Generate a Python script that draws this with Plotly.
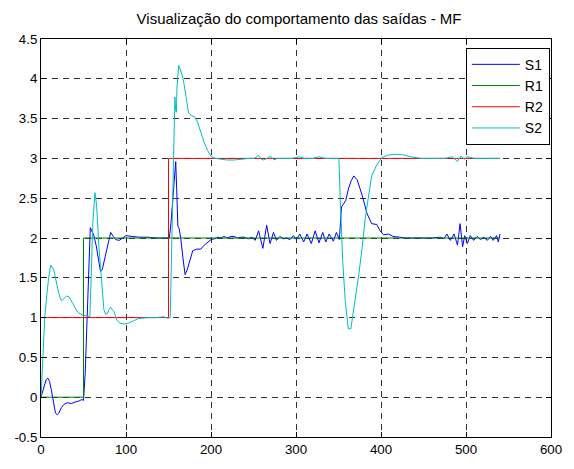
import plotly.graph_objects as go

# ---------------- data ----------------
s1_x = [0, 3, 6, 8, 10, 12, 15, 17, 19, 21, 24, 27, 31, 36, 40, 44, 48, 50, 52, 54, 56, 58, 60, 62, 65, 68, 70, 72,
        75, 78, 80, 82, 85, 88, 92, 96, 100, 107, 115, 125, 135, 145, 151, 153, 155, 157, 158.5, 160, 161, 162.5,
        164.5, 167, 169.5, 172, 175, 178.5, 183, 188, 192, 196, 200, 204, 208, 212, 215, 219, 223, 227, 231, 235,
        239, 244, 248, 252, 256, 261, 265.5, 269.5, 273.5, 277, 281, 285, 289, 293, 297, 300.5, 304.5, 309, 313,
        318, 322.5, 327, 331.5, 335, 339, 344, 347.5, 351, 353.5, 358.5, 362, 365, 368, 372, 378, 383.5, 389, 395,
        399, 403, 409, 414, 420, 430, 445, 460, 470, 474, 477.5, 481.5, 486, 490, 493, 496, 498.5, 501.5, 505, 509,
        513, 517, 521, 525, 529, 532, 536, 538, 540]
s1_y = [0, 0.12, 0.22, 0.24, 0.2, 0.1, -0.1, -0.2, -0.22, -0.2, -0.13, -0.09, -0.07, -0.08, -0.06, -0.05, -0.03,
        -0.04, 0.3, 0.9, 1.6, 2.13, 2.08, 2.04, 1.9, 1.7, 1.58, 1.6, 1.75, 1.9, 2.0, 2.07, 2.02, 1.98, 1.97, 2.0, 2.03,
        2.02, 2.01, 2.01, 2.0, 2.0, 2.0, 2.2, 2.5, 2.8, 2.96, 2.5, 2.15, 2.12, 1.99, 1.75, 1.54, 1.6, 1.72, 1.84, 1.86,
        1.86, 1.91, 1.95, 1.98, 1.99, 2.01, 2.0, 2.02, 2.0, 2.02, 2.02, 2.0, 2.01, 2.01, 1.99, 2.01, 1.97, 2.09, 1.87,
        2.16, 1.93, 2.07, 1.97, 2.02, 1.99, 2.0, 1.98, 2.03, 1.98, 2.05, 1.95, 2.05, 1.93, 2.09, 1.94, 2.07, 1.95, 2.05,
        1.96, 2.07, 1.98, 2.39, 2.47, 2.63, 2.72, 2.78, 2.73, 2.53, 2.31, 2.18, 2.17, 2.09, 2.04, 2.05, 2.02, 2.01, 2.0,
        2.0, 2.0, 2.01, 1.99, 2.05, 1.97, 2.05, 1.91, 2.18, 1.89, 2.03, 1.93, 2.03, 1.97, 2.02, 1.98, 2.01, 1.97, 2.02,
        1.97, 2.03, 1.95, 2.05]

r1_x = [0, 50, 50, 540]
r1_y = [0, 0, 2, 2]

r2_x = [0, 150, 150, 540]
r2_y = [1, 1, 3, 3]

s2_x = [0, 1.5, 3, 4.5, 7, 9, 11.5, 13, 15, 17, 19, 21, 24, 27, 30, 33, 36, 39, 43, 47, 52, 56, 57.5, 59, 61, 63.5,
        65.5, 68, 70, 72, 74, 76, 78, 80, 82, 84, 86, 89, 93, 98, 103, 109, 115, 125, 135, 144, 148, 150, 152, 154,
        156, 157.5, 158.5, 159.3, 160, 162, 166, 168, 171, 173.5, 177, 181, 184, 188, 192, 196.5, 200.5, 205, 212,
        219, 227, 235, 245, 251, 256, 259, 262, 266, 270, 274, 278, 285, 295, 304, 310, 320, 327, 335, 345, 350.5,
        352, 355, 358, 361.5, 364.5, 368, 371, 374, 378, 381.5, 385, 389, 395, 401, 408, 415, 424, 435, 447, 460,
        475, 484, 490, 494, 498, 501, 510, 525, 540]
s2_y = [0, 0.3, 0.7, 1.02, 1.3, 1.5, 1.66, 1.64, 1.6, 1.5, 1.4, 1.3, 1.21, 1.24, 1.27, 1.26, 1.2, 1.13, 1.07, 1.04,
        1.03, 1.02, 1.01, 1.5, 2.2, 2.57, 2.4, 1.9, 1.6, 1.35, 1.1, 1.04, 1.05, 1.1, 1.13, 1.1, 1.07, 0.97, 0.93,
        0.92, 0.93, 0.96, 0.99, 1.0, 1.0, 1.01, 1.0, 0.99, 1.0, 2.0, 3.3, 3.77, 3.6, 3.58, 3.9, 4.17, 4.05, 3.95,
        3.75, 3.57, 3.54, 3.52, 3.46, 3.33, 3.2, 3.09, 3.02, 3.0, 2.99, 2.98, 2.98, 2.99, 3.0, 3.0, 3.04, 2.99, 2.98,
        3.0, 3.03, 2.98, 3.0, 3.0, 3.0, 3.02, 3.0, 3.0, 3.02, 3.0, 3.0, 3.0, 2.5, 1.7, 1.2, 0.86, 0.86, 1.1, 1.35,
        1.55, 1.9, 2.25, 2.5, 2.78, 2.92, 3.01, 3.04, 3.05, 3.05, 3.02, 3.0, 3.0, 3.0, 3.02, 2.96, 3.03, 2.99, 3.02,
        3.0, 3.0, 3.0]

x_ticks = [0, 100, 200, 300, 400, 500, 600]
x_tick_text = ["0", "100", "200", "300", "400", "500", "600"]
y_ticks = [-0.5, 0, 0.5, 1, 1.5, 2, 2.5, 3, 3.5, 4, 4.5]
y_tick_text = ["-0.5", "0", "0.5", "1", "1.5", "2", "2.5", "3", "3.5", "4", "4.5"]

title_text = "Visualização do comportamento das saídas - MF"

# ---------------- figure ----------------
FONT = "Liberation Sans, Arial, sans-serif"
fig = go.Figure()
series = [
    ("S1", s1_x, s1_y, "#0000ff"),
    ("R1", r1_x, r1_y, "#008000"),
    ("R2", r2_x, r2_y, "#ff0000"),
    ("S2", s2_x, s2_y, "#00bfbf"),
]
for name, xs, ys, col in series:
    fig.add_trace(go.Scatter(x=xs, y=ys, mode="lines", name=name, legendgroup=name,
                             line=dict(color=col, width=1)))

axis_common = dict(
    showline=True, linecolor="black", linewidth=1, mirror="allticks",
    ticks="inside", ticklen=5, tickcolor="black",
    showgrid=True, gridcolor="#333333", gridwidth=1, griddash="6px,5px",
    zeroline=False, tickfont=dict(family=FONT, size=13.3, color="black"),
)

fig.update_layout(
    width=574, height=469,
    margin=dict(l=41, r=16, t=39, b=21),
    paper_bgcolor="white", plot_bgcolor="white",
    title=dict(text=title_text, x=0.521, xanchor="center", y=0.961, yanchor="middle",
               font=dict(family=FONT, size=15, color="black")),
    xaxis=dict(range=[0, 600], tickvals=x_ticks, ticktext=x_tick_text, **axis_common),
    yaxis=dict(range=[-0.5, 4.5], tickvals=y_ticks, ticktext=y_tick_text, **axis_common),
    legend=dict(x=0.833, y=0.978, xanchor="left", yanchor="top",
                bgcolor="white", bordercolor="black", borderwidth=1,
                font=dict(family=FONT, size=14, color="black"),
                tracegroupgap=0, itemwidth=48),
    showlegend=True,
)

fig.write_html("out.html")
